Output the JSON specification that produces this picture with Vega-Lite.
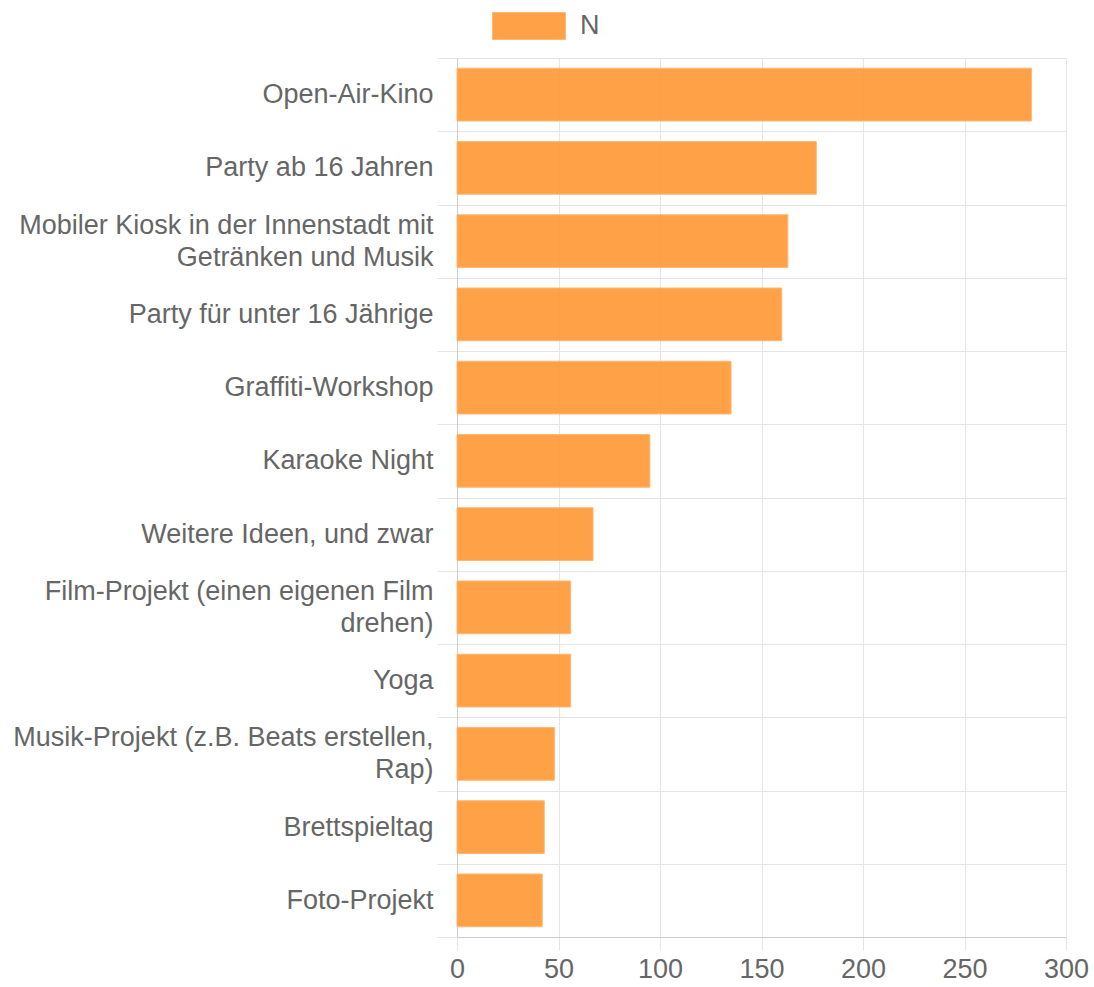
{
  "$schema": "https://vega.github.io/schema/vega-lite/v6.json",
  "autosize": {"type": "none"},
  "padding": {"left": 457, "top": 58, "right": 28, "bottom": 50},
  "width": 609,
  "height": 879,
  "background": "white",
  "config": {
    "view": {"stroke": null},
    "font": "Liberation Sans"
  },
  "data": {
    "values": [
      {"idee": "Open-Air-Kino", "n": 283},
      {"idee": "Party ab 16 Jahren", "n": 177},
      {"idee": "Mobiler Kiosk in der Innenstadt mit Getränken und Musik", "n": 163},
      {"idee": "Party für unter 16 Jährige", "n": 160},
      {"idee": "Graffiti-Workshop", "n": 135},
      {"idee": "Karaoke Night", "n": 95},
      {"idee": "Weitere Ideen, und zwar", "n": 67},
      {"idee": "Film-Projekt (einen eigenen Film drehen)", "n": 56},
      {"idee": "Yoga", "n": 56},
      {"idee": "Musik-Projekt (z.B. Beats erstellen, Rap)", "n": 48},
      {"idee": "Brettspieltag", "n": 43},
      {"idee": "Foto-Projekt", "n": 42}
    ]
  },
  "mark": {"type": "bar", "height": {"band": 0.72}, "opacity": 0.95, "stroke": "#ffb56e", "strokeWidth": 1},
  "encoding": {
    "y": {
      "field": "idee",
      "type": "nominal",
      "sort": null,
      "scale": {"padding": 0},
      "axis": {
        "title": null,
        "tickBand": "extent",
        "grid": true,
        "gridColor": "#e5e5e5",
        "tickColor": "#e5e5e5",
        "tickSize": 20,
        "labelPadding": 4,
        "labelFontSize": 27,
        "labelColor": "#666666",
        "labelLineHeight": 16,
        "labelBaseline": "middle",
        "labelOffset": -16,
        "labelLimit": 460,
        "domainColor": "#cccccc",
        "labelExpr": "datum.label == 'Mobiler Kiosk in der Innenstadt mit Getränken und Musik' ? ['Mobiler Kiosk in der Innenstadt mit', '\u200b', 'Getränken und Musik'] : datum.label == 'Film-Projekt (einen eigenen Film drehen)' ? ['Film-Projekt (einen eigenen Film', '\u200b', 'drehen)'] : datum.label == 'Musik-Projekt (z.B. Beats erstellen, Rap)' ? ['Musik-Projekt (z.B. Beats erstellen,', '\u200b', 'Rap)'] : ['\u200b', datum.label]"
      }
    },
    "x": {
      "field": "n",
      "type": "quantitative",
      "scale": {"domain": [0, 300], "nice": false},
      "axis": {
        "title": null,
        "values": [0, 50, 100, 150, 200, 250, 300],
        "grid": true,
        "gridColor": "#e5e5e5",
        "tickColor": "#e5e5e5",
        "tickSize": 13,
        "labelPadding": 6,
        "labelFontSize": 27,
        "labelColor": "#666666",
        "domainColor": "#cccccc",
        "labelFlush": false
      }
    },
    "color": {
      "datum": "N",
      "type": "nominal",
      "scale": {"range": ["#ff9d3d"]},
      "legend": {
        "title": null,
        "orient": "none",
        "legendX": 35,
        "legendY": -69,
        "symbolType": "M-1,-0.37L1,-0.37L1,0.37L-1,0.37Z",
        "symbolSize": 5329,
        "symbolStrokeWidth": 1,
        "symbolStrokeColor": "#ffb56e",
        "symbolOpacity": 0.95,
        "labelFontSize": 27,
        "labelColor": "#666666",
        "labelOffset": 14
      }
    }
  }
}
